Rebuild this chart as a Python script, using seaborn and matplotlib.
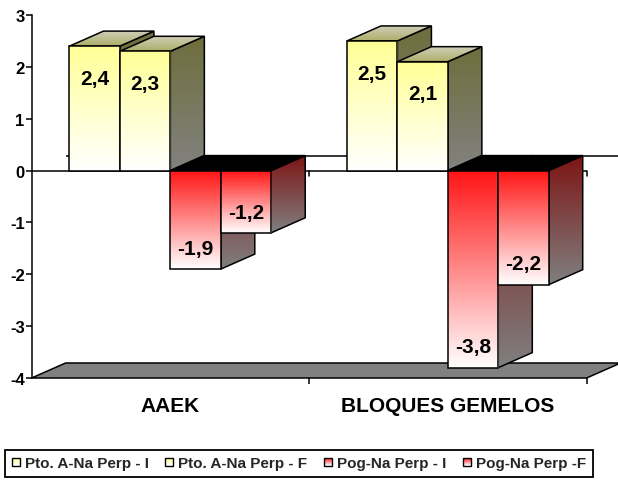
import numpy as np
import pandas as pd
import matplotlib
matplotlib.use("Agg")
import matplotlib.pyplot as plt
import seaborn as sns
from matplotlib.patches import Polygon, Patch, Rectangle
from matplotlib.legend_handler import HandlerBase

# ---- data ----
grupos = ["AAEK", "BLOQUES GEMELOS"]
series = ["Pto. A-Na Perp - I", "Pto. A-Na Perp - F", "Pog-Na Perp - I", "Pog-Na Perp -F"]
valores_aaek = [2.4, 2.3, -1.9, -1.2]
valores_bloques = [2.5, 2.1, -3.8, -2.2]
y_ticks = [3, 2, 1, 0, -1, -2, -3, -4]

# ---- styling ----
FRONT_POS = ((255, 255, 150), (255, 255, 255))
SIDE_POS = ((110, 110, 60), (130, 130, 128))
TOP_POS = ((205, 205, 185), (175, 175, 105))
FRONT_NEG = ((255, 20, 20), (255, 255, 255))
SIDE_NEG = ((125, 20, 20), (128, 128, 128))
GRAY = (128 / 255, 128 / 255, 128 / 255)
serie_top = [(255, 255, 150), (255, 255, 150), (255, 40, 40), (255, 40, 40)]


def rgb(c):
    return tuple(v / 255 for v in c)


sns.set_theme(style="white")
plt.rcParams["font.family"] = ["Liberation Sans", "DejaVu Sans"]
plt.rcParams["font.weight"] = "bold"

W, H = 618, 481
fig = plt.figure(figsize=(W / 100, H / 100), dpi=100)
ax = fig.add_axes([31.6 / W, 1 - 379 / H, 555 / W, 363 / H])

df = pd.DataFrame({
    "grupo": np.repeat(grupos, len(series)),
    "serie": series * len(grupos),
    "valor": valores_aaek + valores_bloques,
})

sns.barplot(data=df, x="grupo", y="valor", hue="serie", order=grupos,
            hue_order=series, width=0.727, palette=[rgb(c) for c in serie_top],
            saturation=1, errorbar=None, legend=False, ax=ax)

XMIN, XMAX, YMIN, YMAX = -0.5, 1.5, -4, 3
# depth of the 3D extrusion in data units (about 34 px right, 15 px up)
DX = 34 / (555 / (XMAX - XMIN))
DY = 15 / (363 / (YMAX - YMIN))
LW = 1.1


def shade(clip, bounds, top, bottom, z):
    xa, xb, ya, yb = bounds
    g = np.linspace(0, 1, 256)[:, None, None]
    img = np.array(rgb(top))[None, None, :] * (1 - g) + np.array(rgb(bottom))[None, None, :] * g
    im = ax.imshow(img, extent=(xa, xb, ya, yb), origin="upper", aspect="auto",
                   interpolation="bilinear", zorder=z)
    im.set_clip_path(clip)


bars = sorted(ax.patches, key=lambda p: p.get_x())
for i, p in enumerate(bars):
    z = 5 + i
    x0, w = p.get_x(), p.get_width()
    x1 = x0 + w
    y0 = p.get_y()
    y1 = y0 + p.get_height()
    lo, hi = min(y0, y1), max(y0, y1)
    positive = hi > 0

    # side face
    side = Polygon([(x1, lo), (x1 + DX, lo + DY), (x1 + DX, hi + DY), (x1, hi)],
                   closed=True, facecolor="none", edgecolor="black", lw=LW, zorder=z + 0.15)
    ax.add_patch(side)
    top_c, bot_c = SIDE_POS if positive else SIDE_NEG
    shade(side, (x1, x1 + DX, lo, hi + DY), top_c, bot_c, z + 0.1)

    # top face
    top = Polygon([(x0, hi), (x1, hi), (x1 + DX, hi + DY), (x0 + DX, hi + DY)],
                  closed=True, edgecolor="black", lw=LW, zorder=z + 0.25,
                  facecolor="none" if positive else "black")
    ax.add_patch(top)
    if positive:
        shade(top, (x0, x1 + DX, hi, hi + DY), TOP_POS[0], TOP_POS[1], z + 0.2)

    # front face
    p.set_facecolor("none")
    p.set_edgecolor("black")
    p.set_linewidth(LW)
    p.set_zorder(z + 0.35)
    top_c, bot_c = FRONT_POS if positive else FRONT_NEG
    shade(p, (x0, x1, lo, hi), top_c, bot_c, z + 0.3)

    # value label
    val = p.get_height()
    ty = val - 0.62 if val > 0 else val + 0.4
    ax.text(x0 + w / 2, ty, f"{val:.1f}".replace(".", ","), ha="center", va="center",
            fontsize=15, fontweight="bold", color="black", zorder=60)

# floor
floor = Polygon([(XMIN, YMIN), (XMAX, YMIN), (XMAX + DX, YMIN + DY), (XMIN + DX, YMIN + DY)],
                closed=True, facecolor=GRAY, edgecolor="black", lw=LW, zorder=2, clip_on=False)
ax.add_patch(floor)

# zero plane lines (back and front)
ax.plot([XMIN + DX, XMAX + DX], [DY, DY], color="black", lw=LW, zorder=1, clip_on=False,
        solid_capstyle="butt")
ax.plot([XMIN, XMAX], [0, 0], color="black", lw=LW, zorder=3, clip_on=False,
        solid_capstyle="butt")
for xt in [0.5, 1.5]:
    ax.plot([xt, xt], [0, -5 / (363 / 7)], color="black", lw=LW, zorder=3, clip_on=False)

ax.set_xlim(XMIN, XMAX)
ax.set_ylim(YMIN, YMAX)
ax.set_yticks(y_ticks)
ax.set_yticklabels([str(t) for t in y_ticks])
ax.set_xticks([0.5, 1.5])
ax.set_xticklabels(["", ""])
ax.set_xticks([0, 1], minor=True)
ax.set_xticklabels(grupos, minor=True)
ax.tick_params(axis="x", which="major", length=4, width=LW, direction="out", color="black",
               bottom=True)
ax.tick_params(axis="x", which="minor", length=0, pad=13, labelsize=15, labelcolor="black")
ax.tick_params(axis="y", length=4, width=LW, direction="out", color="black", pad=1,
               labelsize=12, labelcolor="black", left=True)
for lbl in ax.get_xticklabels(minor=True) + ax.get_yticklabels():
    lbl.set_fontweight("bold")
ax.set_xlabel("")
ax.set_ylabel("")
for s in ["top", "right", "bottom"]:
    ax.spines[s].set_visible(False)
ax.spines["left"].set_color("black")
ax.spines["left"].set_linewidth(LW)
ax.set_facecolor("none")
ax.grid(False)


class GradientSquare(HandlerBase):
    def __init__(self, color):
        super().__init__()
        self.color = np.array(rgb(color))

    def create_artists(self, legend, orig_handle, xdescent, ydescent, width, height,
                       fontsize, trans):
        s = min(width, height)
        xa = -xdescent + (width - s) / 2
        ya = -ydescent + (height - s) / 2
        arts = []
        n = 8
        for k in range(n):
            f = k / (n - 1)
            c = self.color * f + np.ones(3) * (1 - f)
            arts.append(Rectangle((xa, ya + s * k / n), s, s / n, facecolor=c,
                                  edgecolor="none", transform=trans))
        arts.append(Rectangle((xa, ya), s, s, facecolor="none", edgecolor="black",
                              lw=1.0, transform=trans))
        return arts


handles = [Patch(label=s) for s in series]
hmap = {h: GradientSquare(c) for h, c in zip(handles, serie_top)}
leg = fig.legend(handles=handles, labels=series, handler_map=hmap, ncol=4,
                 loc="center", bbox_to_anchor=(5 / W, 1 - 479 / H, 588 / W, 29 / H),
                 mode="expand", fancybox=False, framealpha=1, edgecolor="black",
                 handlelength=0.5, handleheight=0.5, handletextpad=0.35,
                 borderpad=0.45, borderaxespad=0, columnspacing=0.3,
                 prop={"weight": "bold", "size": 11})
leg.get_frame().set_linewidth(1.3)

fig.savefig("out.png", dpi=100)
